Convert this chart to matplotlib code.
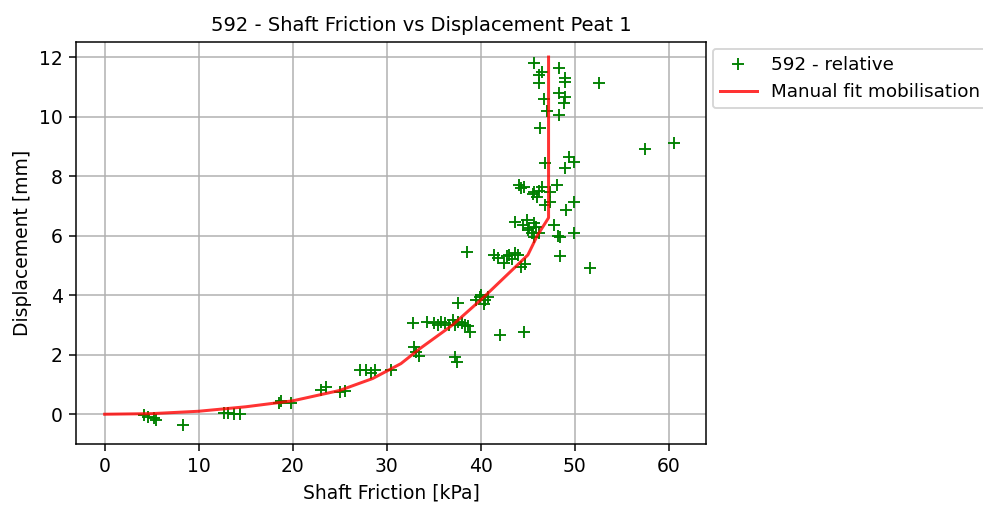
import matplotlib
matplotlib.use('Agg')
import matplotlib.pyplot as plt

# measured shaft friction [kPa] and displacement [mm], pile 592 (relative)
friction = [4.2, 4.6, 5.2, 5.5, 8.3,
            12.7, 13.1, 13.7, 14.4,
            18.5, 18.8, 19.8,
            23.0, 23.5, 25.0, 25.6,
            27.1, 27.8, 28.3, 28.7, 30.4,
            32.9, 33.1, 33.4,
            32.8, 34.3, 35.0, 35.4, 35.8, 36.2, 36.6, 37.0, 37.3, 37.6, 38.0, 38.3, 38.6, 38.8,
            37.3, 37.5, 42.0, 44.6,
            37.6, 39.5, 39.9, 40.4, 40.8, 40.3, 40.0,
            38.5, 41.4, 41.8, 42.5, 43.0, 43.3, 44.0, 44.3, 44.7, 42.8, 43.6,
            48.4, 51.6,
            43.6, 44.9, 45.1, 45.6, 45.9, 45.4, 45.7, 46.2, 44.5, 45.0, 47.8, 48.4, 48.2, 49.9,
            44.1, 44.3, 44.6, 45.7, 46.0, 46.5, 46.8, 47.3, 48.1, 47.3, 49.1, 49.9, 45.5, 46.2,
            46.8, 48.9, 49.4, 49.9,
            57.5, 60.5,
            45.7, 46.5, 46.2, 48.3, 48.9, 48.9, 46.2, 52.6, 48.3, 46.7, 48.9, 48.8, 47.0, 48.3, 46.3]
displacement = [-0.03, -0.1, -0.12, -0.18, -0.37,
                0.03, 0.05, 0.0, 0.0,
                0.37, 0.45, 0.38,
                0.8, 0.9, 0.75, 0.77,
                1.5, 1.5, 1.4, 1.5, 1.5,
                2.25, 2.1, 1.95,
                3.06, 3.1, 3.05, 3.0, 3.1, 3.05, 3.0, 3.15, 3.0, 3.1, 3.05, 3.0, 2.95, 2.76,
                1.93, 1.75, 2.65, 2.76,
                3.73, 3.83, 3.93, 3.83, 3.93, 3.7, 4.0,
                5.45, 5.35, 5.25, 5.07, 5.35, 5.2, 5.35, 4.95, 5.05, 5.3, 5.4,
                5.3, 4.9,
                6.45, 6.52, 6.25, 6.42, 6.3, 6.08, 5.95, 6.1, 6.35, 6.2, 6.35, 5.95, 6.0, 6.08,
                7.7, 7.6, 7.63, 7.46, 7.3, 7.63, 7.03, 7.46, 7.7, 7.13, 6.86, 7.13, 7.4, 7.5,
                8.43, 8.27, 8.64, 8.47,
                8.9, 9.1,
                11.8, 11.5, 11.4, 11.63, 11.3, 11.16, 11.13, 11.13, 10.8, 10.6, 10.66, 10.45, 10.2, 10.05, 9.6]

# manual mobilisation curve
fit_friction = [0, 5, 10, 15, 20, 25, 28.5, 31.5, 33.5, 37, 40.2, 45, 46, 47.2, 47.2]
fit_displacement = [0, 0.02, 0.1, 0.25, 0.45, 0.8, 1.2, 1.7, 2.2, 3.0, 3.9, 5.35, 6.0, 6.6, 12.0]

fig = plt.figure(figsize=(983 / 135, 508 / 135), dpi=135)
ax = fig.add_axes([0.0773, 0.126, 0.641, 0.791])
ax.plot(friction, displacement, '+', color='green', markersize=6, label='592 - relative')
ax.plot(fit_friction, fit_displacement, color='red', alpha=0.8, lw=1.6, label='Manual fit mobilisation')
ax.grid(True)
ax.set_xlim(-3.05, 63.95)
ax.set_ylim(-1.0, 12.5)
ax.set_title('592 - Shaft Friction vs Displacement Peat 1', fontsize=10.4, x=0.548)
ax.set_xlabel('Shaft Friction [kPa]')
ax.set_ylabel('Displacement [mm]')
ax.legend(loc='upper left', bbox_to_anchor=(1, 1), borderaxespad=0.35, fontsize=9.8)
fig.savefig('out.png', dpi=135)
